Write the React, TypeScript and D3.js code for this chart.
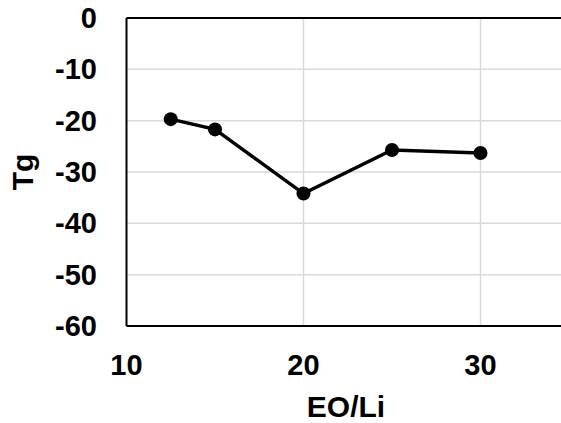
import React from "react";
import * as d3 from "d3";

const eoLi = [12.5, 15, 20, 25, 30];
const tg = [-19.7, -21.7, -34.2, -25.7, -26.3];
const xTicks = [10, 20, 30];
const yTicks = [0, -10, -20, -30, -40, -50, -60];

export default function App() {
  const W = 561, H = 423;
  const left = 126.5, top = 18, bottom = 326;
  const x = d3.scaleLinear().domain([10, 35]).range([left, left + 177 * 2.5]);
  const y = d3.scaleLinear().domain([-60, 0]).range([bottom, top]);
  const line = d3.line<number>().x((_, i) => x(eoLi[i])).y((d) => y(d));
  const font = "Arial, 'Liberation Sans', sans-serif";
  return (
    <svg width={W} height={H} style={{ position: "absolute", left: 0, top: 0, background: "#fff" }}>
      {yTicks.filter((t) => t !== 0 && t !== -60).map((t) => (
        <line key={"gy" + t} x1={left} x2={W} y1={y(t)} y2={y(t)} stroke="#d9d9d9" strokeWidth={1.5} />
      ))}
      {xTicks.filter((t) => t !== 10).map((t) => (
        <line key={"gx" + t} x1={x(t)} x2={x(t)} y1={top} y2={bottom} stroke="#d9d9d9" strokeWidth={1.5} />
      ))}
      <line x1={left} x2={W} y1={top} y2={top} stroke="#000" strokeWidth={2} />
      <line x1={left} x2={W} y1={bottom} y2={bottom} stroke="#000" strokeWidth={2} />
      <line x1={left} x2={left} y1={top} y2={bottom} stroke="#000" strokeWidth={2} />
      <path d={line(tg) || ""} fill="none" stroke="#000" strokeWidth={3.5} />
      {tg.map((v, i) => (
        <circle key={i} cx={x(eoLi[i])} cy={y(v)} r={7} fill="#000" />
      ))}
      {yTicks.map((t) => (
        <text key={"ty" + t} x={97} y={y(t)} dy="0.35em" textAnchor="end" fontFamily={font} fontWeight="bold" fontSize={29}>
          {t}
        </text>
      ))}
      {xTicks.map((t) => (
        <text key={"tx" + t} x={x(t)} y={375} textAnchor="middle" fontFamily={font} fontWeight="bold" fontSize={29}>
          {t}
        </text>
      ))}
      <text x={346} y={417} textAnchor="middle" fontFamily={font} fontWeight="bold" fontSize={30}>
        EO/Li
      </text>
      <text transform={`translate(33,172) rotate(-90)`} textAnchor="middle" fontFamily={font} fontWeight="bold" fontSize={30}>
        Tg
      </text>
    </svg>
  );
}
